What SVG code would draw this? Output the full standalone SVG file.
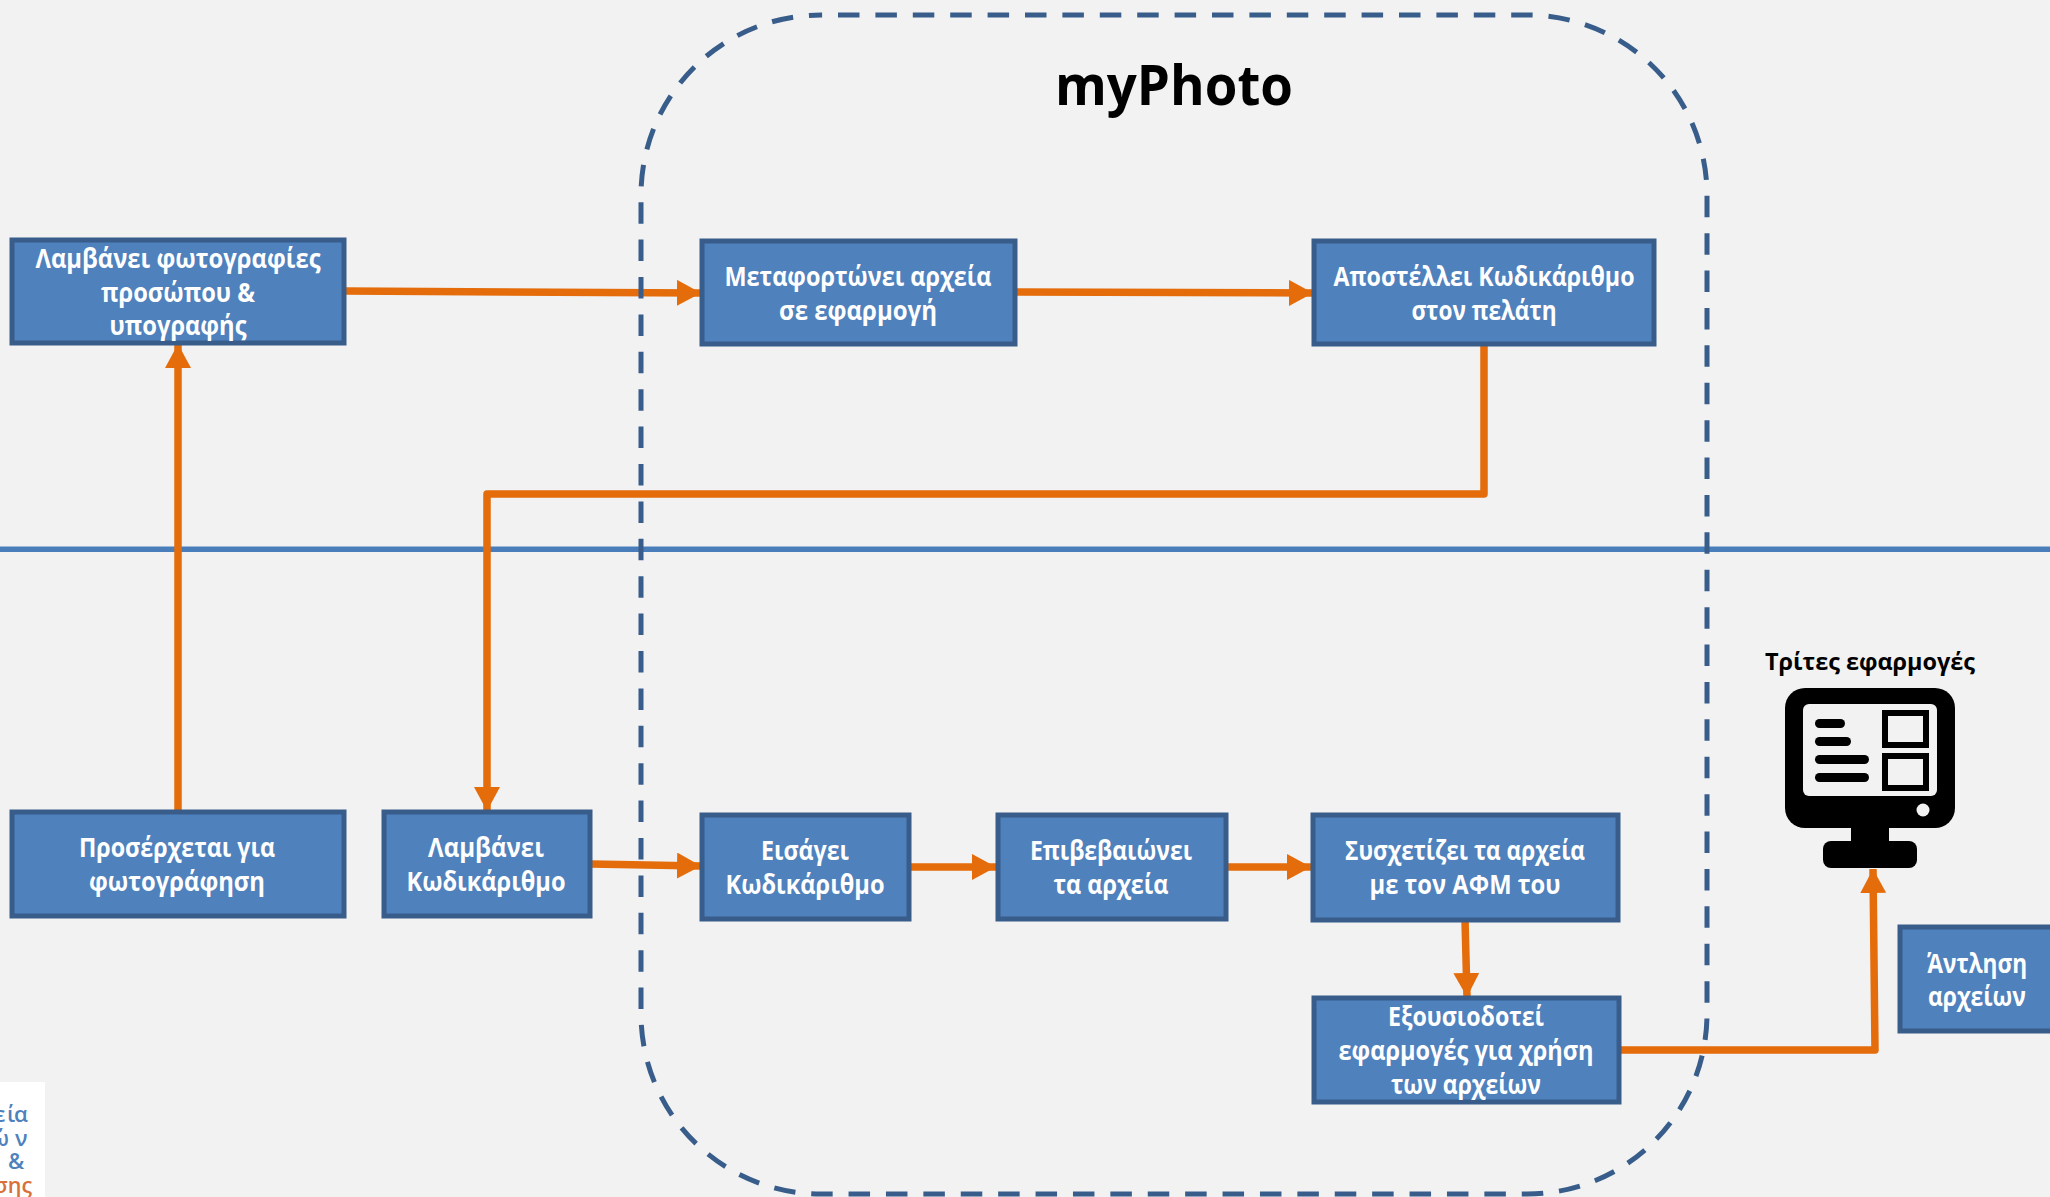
<svg xmlns="http://www.w3.org/2000/svg" width="2050" height="1197" viewBox="0 0 2050 1197">
<style>
text{font-family:"Open Sans","Noto Sans",sans-serif}
.b{fill:#4f81bd;stroke:#385d8a;stroke-width:5}
.t{fill:#fff;font-size:26px;font-weight:700;text-anchor:middle}
.c{fill:none;stroke:#e46c0a;stroke-width:7.5;stroke-linejoin:round}
.k{fill:#000}
.s{fill:#f2f2f2}
.l{fill:#4f81bd;font-size:22px;font-weight:600}
</style>
<defs>
<marker id="ah" markerUnits="userSpaceOnUse" markerWidth="25" markerHeight="26" refX="24" refY="13" orient="auto"><path d="M0 0L24 13L0 26Z" fill="#e46c0a"/></marker>
</defs>
<rect width="2050" height="1197" fill="#f2f2f2"/>
<rect id="divider" x="0" y="546.5" width="2050" height="5.5" fill="#4a7ebb"/>
<g id="connectors">
<path class="c" marker-end="url(#ah)" d="M345 291L701 293"/>
<path class="c" marker-end="url(#ah)" d="M1016 292L1313 293"/>
<path class="c" marker-end="url(#ah)" d="M178 811V344"/>
<path class="c" marker-end="url(#ah)" d="M1484 345V494H487V811"/>
<path class="c" marker-end="url(#ah)" d="M591 864L701 866"/>
<path class="c" marker-end="url(#ah)" d="M910 867H996"/>
<path class="c" marker-end="url(#ah)" d="M1226 867H1311"/>
<path class="c" marker-end="url(#ah)" d="M1465 920L1467 997"/>
<path class="c" marker-end="url(#ah)" d="M1620 1050H1875L1873 869"/>
</g>
<rect id="myPhoto-boundary" x="641" y="15" width="1066" height="1179" rx="180" ry="180" fill="none" stroke="#385d8a" stroke-width="5" stroke-dasharray="21.5 15.9" stroke-dashoffset="-17"/>
<text id="title" x="1174" y="105" font-size="56" font-weight="700" text-anchor="middle" textLength="238" lengthAdjust="spacingAndGlyphs">myPhoto</text>
<g id="n1"><rect class="b" x="12" y="240" width="332" height="103"/><text class="t" x="178" y="268" textLength="285" lengthAdjust="spacingAndGlyphs">Λαμβάνει φωτογραφίες</text><text class="t" x="178" y="302" textLength="154" lengthAdjust="spacingAndGlyphs">προσώπου &amp;</text><text class="t" x="178" y="335" textLength="137" lengthAdjust="spacingAndGlyphs">υπογραφής</text></g>
<g id="n2"><rect class="b" x="702" y="241" width="313" height="103"/><text class="t" x="858" y="286" textLength="267" lengthAdjust="spacingAndGlyphs">Μεταφορτώνει αρχεία</text><text class="t" x="858" y="320" textLength="158" lengthAdjust="spacingAndGlyphs">σε εφαρμογή</text></g>
<g id="n3"><rect class="b" x="1314" y="241" width="340" height="103"/><text class="t" x="1484" y="286" textLength="301" lengthAdjust="spacingAndGlyphs">Αποστέλλει Κωδικάριθμο</text><text class="t" x="1484" y="320" textLength="145" lengthAdjust="spacingAndGlyphs">στον πελάτη</text></g>
<g id="n4"><rect class="b" x="12" y="812" width="332" height="104"/><text class="t" x="177" y="857" textLength="196" lengthAdjust="spacingAndGlyphs">Προσέρχεται για</text><text class="t" x="177" y="891" textLength="176" lengthAdjust="spacingAndGlyphs">φωτογράφηση</text></g>
<g id="n5"><rect class="b" x="384" y="812" width="206" height="104"/><text class="t" x="486" y="857" textLength="116" lengthAdjust="spacingAndGlyphs">Λαμβάνει</text><text class="t" x="486" y="891" textLength="159" lengthAdjust="spacingAndGlyphs">Κωδικάριθμο</text></g>
<g id="n6"><rect class="b" x="702" y="815" width="207" height="104"/><text class="t" x="805" y="860" textLength="88" lengthAdjust="spacingAndGlyphs">Εισάγει</text><text class="t" x="805" y="894" textLength="159" lengthAdjust="spacingAndGlyphs">Κωδικάριθμο</text></g>
<g id="n7"><rect class="b" x="998" y="815" width="228" height="104"/><text class="t" x="1111" y="860" textLength="162" lengthAdjust="spacingAndGlyphs">Επιβεβαιώνει</text><text class="t" x="1111" y="894" textLength="115" lengthAdjust="spacingAndGlyphs">τα αρχεία</text></g>
<g id="n8"><rect class="b" x="1313" y="815" width="305" height="105"/><text class="t" x="1465" y="860" textLength="240" lengthAdjust="spacingAndGlyphs">Συσχετίζει τα αρχεία</text><text class="t" x="1465" y="894" textLength="191" lengthAdjust="spacingAndGlyphs">με τον ΑΦΜ του</text></g>
<g id="n9"><rect class="b" x="1314" y="998" width="305" height="104"/><text class="t" x="1466" y="1026" textLength="156" lengthAdjust="spacingAndGlyphs">Εξουσιοδοτεί</text><text class="t" x="1466" y="1060" textLength="255" lengthAdjust="spacingAndGlyphs">εφαρμογές για χρήση</text><text class="t" x="1466" y="1094" textLength="150" lengthAdjust="spacingAndGlyphs">των αρχείων</text></g>
<g id="n10"><rect class="b" x="1900" y="927" width="160" height="104"/><text class="t" x="1977" y="973" textLength="100" lengthAdjust="spacingAndGlyphs">Άντληση</text><text class="t" x="1977" y="1006" textLength="98" lengthAdjust="spacingAndGlyphs">αρχείων</text></g>
<g id="third-party">
<text x="1870" y="670" font-size="24" font-weight="700" text-anchor="middle" textLength="210" lengthAdjust="spacingAndGlyphs">Τρίτες εφαρμογές</text>
<rect class="k" x="1785" y="688" width="170" height="140" rx="20"/>
<rect class="k" x="1851" y="826" width="38" height="18"/>
<rect class="k" x="1823" y="841" width="94" height="27" rx="8"/>
<rect class="s" x="1803" y="704" width="134" height="92" rx="6"/>
<rect class="k" x="1815" y="719" width="30" height="9" rx="4.5"/>
<rect class="k" x="1815" y="737" width="36" height="9" rx="4.5"/>
<rect class="k" x="1815" y="755" width="54" height="9" rx="4.5"/>
<rect class="k" x="1815" y="773" width="54" height="9" rx="4.5"/>
<rect x="1885" y="713" width="41" height="32" fill="none" stroke="#000" stroke-width="6"/>
<rect x="1885" y="756" width="41" height="32" fill="none" stroke="#000" stroke-width="6"/>
<circle class="s" cx="1923" cy="810" r="6.5"/>
</g>
<g id="logo">
<rect x="0" y="1082" width="45" height="115" fill="#fff"/>
<text class="l" x="-6 7 14" y="1122">εία</text>
<text class="l" x="-9 15" y="1146">ών</text>
<text class="l" x="8" y="1169">&amp;</text>
<text class="l" x="-6" y="1193" textLength="38" lengthAdjust="spacingAndGlyphs" style="fill:#d9703a">σης</text>
</g>
</svg>
